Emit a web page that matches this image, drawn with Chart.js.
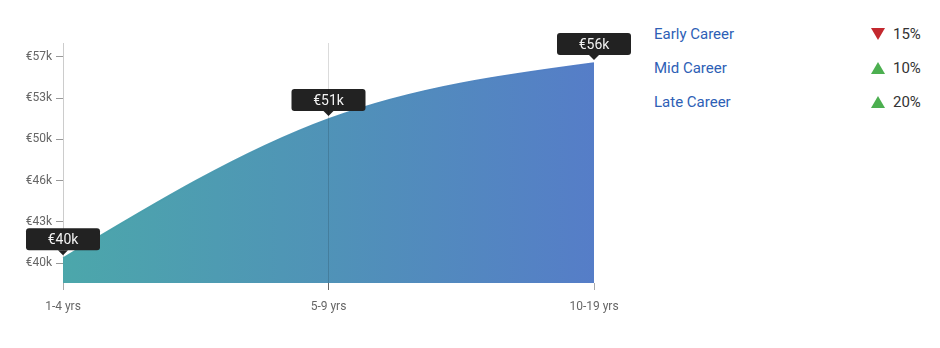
<!DOCTYPE html>
<html>
<head>
<meta charset="utf-8">
<script src="https://cdn.jsdelivr.net/npm/chart.js@4"></script>
<style>
  body { margin: 0; background: #fff; font-family: Roboto, sans-serif; }
  #wrap { position: relative; width: 940px; height: 348px; }
  #chartBox { position: absolute; left: 0; top: 0; width: 640px; height: 348px; }
  #side { position: absolute; left: 654px; top: 22px; width: 270px; }
  .row { position: relative; height: 34px; font-size: 15px; line-height: 24px; }
  .row .name { color: #2e5fb6; }
  .row .arrow { position: absolute; left: 217px; width: 0; height: 0; border-left: 7px solid transparent; border-right: 7px solid transparent; }
  .row .arrow.down { top: 6px; border-top: 12px solid #c3282e; }
  .row .arrow.up { top: 6px; border-bottom: 12px solid #4caf50; }
  .row .pct { position: absolute; left: 239px; top: 0; color: #333; }
</style>
</head>
<body>
<div id="wrap">
  <div id="chartBox"><canvas id="salaryChart"></canvas></div>
  <div id="side"></div>
</div>
<script>
const stages = ["1-4 yrs", "5-9 yrs", "10-19 yrs"];
const salaries = [40400, 51880, 56500];
const tooltipLabels = ["€40k", "€51k", "€56k"];
const tickValues = [40000, 43400, 46800, 50200, 53600, 57000];
const tickLabels = ["€40k", "€43k", "€46k", "€50k", "€53k", "€57k"];
const careers = ["Early Career", "Mid Career", "Late Career"];
const changes = [15, 10, 20];
const directions = ["down", "up", "up"];

// side list
const side = document.getElementById("side");
careers.forEach((name, i) => {
    const row = document.createElement("div");
    row.className = "row";
    row.innerHTML = '<span class="name">' + name + '</span>' +
        '<span class="arrow ' + directions[i] + '"></span>' +
        '<span class="pct">' + changes[i] + '%</span>';
    side.appendChild(row);
});

function areaGradient(chart, alpha) {
    const a = chart.chartArea;
    if (!a) return null;
    const g = chart.ctx.createLinearGradient(a.left, 0, a.right, 0);
    g.addColorStop(0, "rgba(70,164,168," + alpha + ")");
    g.addColorStop(0.5, "rgba(74,143,181," + alpha + ")");
    g.addColorStop(1, "rgba(80,121,198," + alpha + ")");
    return g;
}

// monotone-x curve (same tangents as d3.curveMonotoneX) on the points the scales placed
const monotoneX = {
    id: "monotoneX",
    beforeDatasetsDraw(chart) {
        const meta = chart.getDatasetMeta(0);
        const line = meta.dataset;
        const pts = meta.data;
        line.updateControlPoints(chart.chartArea, "x");
        const n = pts.length;
        const h = [], s = [], t = [];
        for (let i = 0; i < n - 1; i++) {
            h[i] = pts[i + 1].x - pts[i].x;
            s[i] = (pts[i + 1].y - pts[i].y) / h[i];
        }
        for (let i = 1; i < n - 1; i++) {
            const p = (s[i - 1] * h[i] + s[i] * h[i - 1]) / (h[i - 1] + h[i]);
            t[i] = (Math.sign(s[i - 1]) + Math.sign(s[i])) *
                Math.min(Math.abs(s[i - 1]), Math.abs(s[i]), 0.5 * Math.abs(p)) || 0;
        }
        t[0] = (3 * s[0] - t[1]) / 2;
        t[n - 1] = (3 * s[n - 2] - t[n - 2]) / 2;
        for (let i = 0; i < n; i++) {
            const pt = pts[i];
            const hb = i > 0 ? h[i - 1] / 3 : 0;
            const ha = i < n - 1 ? h[i] / 3 : 0;
            pt.cp1x = pt.x - hb; pt.cp1y = pt.y - t[i] * hb;
            pt.cp2x = pt.x + ha; pt.cp2y = pt.y + t[i] * ha;
        }
        line._path = undefined;
    }
};

// dark value boxes above each point
const valueBoxes = {
    id: "valueBoxes",
    afterDatasetsDraw(chart) {
        const ctx = chart.ctx;
        const meta = chart.getDatasetMeta(0);
        ctx.save();
        ctx.font = "14px Roboto, sans-serif";
        ctx.textAlign = "center";
        ctx.textBaseline = "middle";
        meta.data.forEach((pt, i) => {
            const w = 74, h = 22;
            const bx = pt.x - w / 2, by = pt.y - 8 - h;
            ctx.fillStyle = "#222";
            ctx.beginPath();
            ctx.roundRect(bx, by, w, h, 3);
            ctx.fill();
            ctx.beginPath();
            ctx.moveTo(pt.x - 5, by + h);
            ctx.lineTo(pt.x + 5, by + h);
            ctx.lineTo(pt.x, by + h + 5);
            ctx.closePath();
            ctx.fill();
            ctx.fillStyle = "#f2f2f2";
            ctx.fillText(tooltipLabels[i], pt.x, by + h / 2 + 1);
        });
        ctx.restore();
    }
};

const ctx = document.getElementById("salaryChart").getContext("2d");
new Chart(ctx, {
    type: "line",
    data: {
        labels: stages,
        datasets: [{
            data: salaries,
            fill: "start",
            tension: 0.4,
            borderWidth: 1.5,
            borderColor: c => areaGradient(c.chart, 0.95),
            backgroundColor: c => areaGradient(c.chart, 0.97),
            pointRadius: 0,
            pointHoverRadius: 0,
        }]
    },
    options: {
        responsive: true,
        maintainAspectRatio: false,
        animation: false,
        layout: { padding: { top: 43, right: 46, left: 0, bottom: 0 } },
        plugins: {
            legend: { display: false },
            tooltip: { enabled: false },
        },
        scales: {
            x: {
                offset: false,
                afterFit: s => { s.height = 65; },
                border: { display: false },
                grid: {
                    z: 1,
                    tickLength: 7,
                    color: c => c.index === 1 ? "rgba(0,0,0,0.14)" : "rgba(0,0,0,0)",
                    tickColor: c => c.index === 1 ? "#666" : "#aaa",
                },
                ticks: {
                    padding: 10,
                    color: "#666",
                    font: { family: "Roboto", size: 12 },
                },
            },
            y: {
                min: 38350,
                max: 58150,
                afterFit: s => { s.width = 63; },
                afterBuildTicks: s => { s.ticks = tickValues.map(v => ({ value: v })); },
                border: { display: true, color: "#ccc" },
                grid: {
                    drawOnChartArea: false,
                    tickLength: 7,
                    tickColor: "#999",
                },
                ticks: {
                    padding: 4,
                    color: "#666",
                    font: { family: "Roboto", size: 12 },
                    callback: (v, i) => tickLabels[i],
                },
            },
        },
    },
    plugins: [monotoneX, valueBoxes],
});
</script>
</body>
</html>
